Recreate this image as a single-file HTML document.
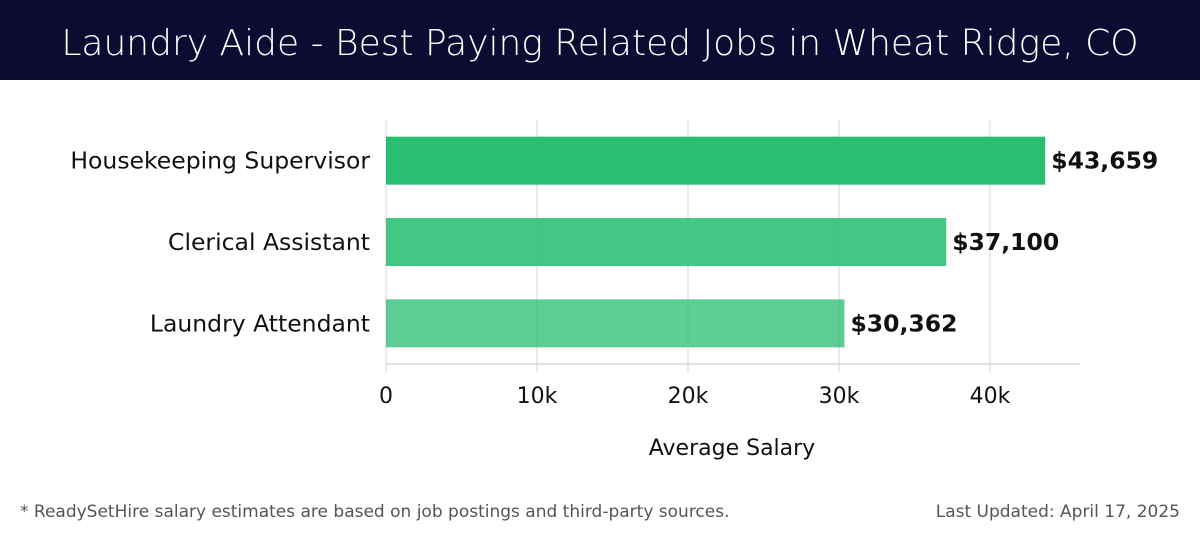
<!DOCTYPE html>
<html><head><meta charset="utf-8"><style>
body{margin:0;width:1200px;height:540px;background:#fff;font-family:"Liberation Sans","DejaVu Sans",sans-serif;overflow:hidden}
#title{position:absolute;left:0;top:0;width:1200px;height:80px;background:#0c0c32;color:#fff;font-size:36px;text-align:center;line-height:88px;font-family:"DejaVu Sans","Liberation Sans",sans-serif;font-weight:300}
.foot{position:absolute;top:502px;font-size:17px;color:#555;font-family:"DejaVu Sans","Liberation Sans",sans-serif}
</style></head><body>
<div id="title">Laundry Aide - Best Paying Related Jobs in Wheat Ridge, CO</div>
<svg id="chart" width="1200" height="540" style="position:absolute;left:0;top:0"></svg>
<div class="foot" style="left:20px">* ReadySetHire salary estimates are based on job postings and third-party sources.</div>
<div class="foot" style="right:20px">Last Updated: April 17, 2025</div>
<script>
const categories=["Housekeeping Supervisor","Clerical Assistant","Laundry Attendant"];
const salaries=[43659,37100,30362];
const valueLabels=["$43,659","$37,100","$30,362"];
const ticks=[0,10000,20000,30000,40000];
const tickLabels=["0","10k","20k","30k","40k"];
const svg=document.getElementById('chart');const NS='http://www.w3.org/2000/svg';
const x0=386,pxPer=15.1/1000,plotTop=120,plotBottom=364,plotRight=1080;
const x=v=>x0+v*pxPer;
const bandH=(plotBottom-plotTop)/categories.length;
const y=i=>plotTop+bandH*i+bandH/2;
function mk(t,a){const e=document.createElementNS(NS,t);for(const k in a)e.setAttribute(k,a[k]);svg.appendChild(e);return e;}
ticks.forEach((t,i)=>{
 const g=mk('line',{x1:x(t),x2:x(t),y1:plotTop,y2:plotBottom+8,stroke:'#e2e2e2','stroke-width':1.5});
 
 
 const l=mk('text',{x:x(t),y:403,'text-anchor':'middle','font-size':22,fill:'#111','font-family':'DejaVu Sans, sans-serif'});
 l.textContent=tickLabels[i];
 
 
});
const ax=mk('line',{x1:x0,x2:plotRight,y1:plotBottom,y2:plotBottom,stroke:'#d8d8d8','stroke-width':1.5});


const ops=[1,0.88,0.76];
categories.forEach((c,i)=>{
 const b=mk('rect',{x:x0,y:y(i)-24,width:x(salaries[i])-x0,height:48,fill:'#29bf73','fill-opacity':ops[i]});
 
 
 const v=mk('text',{x:x(salaries[i])+6,y:y(i)+8,'font-size':23.5,'font-weight':'bold',fill:'#111','font-family':'DejaVu Sans, sans-serif'});
 v.textContent=valueLabels[i];
 
 
 const cl=mk('text',{x:370,y:y(i)+8,'text-anchor':'end','font-size':23.5,fill:'#111','font-family':'DejaVu Sans, sans-serif'});
 cl.textContent=c;
 
 
});
const at=mk('text',{x:732,y:455,'text-anchor':'middle','font-size':22,fill:'#111','font-family':'DejaVu Sans, sans-serif'});
at.textContent='Average Salary';


</script>
</body></html>
